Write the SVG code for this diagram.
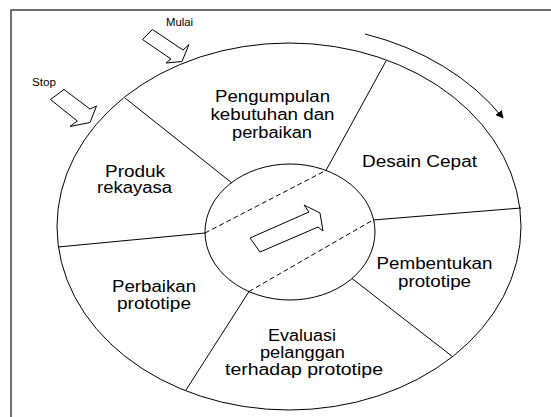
<svg xmlns="http://www.w3.org/2000/svg" width="551" height="417" viewBox="0 0 551 417">
<defs>
<style>
.ln{fill:none;stroke:#000;stroke-width:1}
.dash{fill:none;stroke:#000;stroke-width:1;stroke-dasharray:5,3}
.blk{fill:#fff;stroke:#000;stroke-width:1;stroke-linejoin:miter}
.t{font-family:"Liberation Sans",Arial,sans-serif;font-size:16px;fill:#000;text-anchor:middle}
.s{font-family:"Liberation Sans",Arial,sans-serif;font-size:10px;fill:#000}
</style>
<marker id="ah" viewBox="0 0 10 10" refX="9" refY="5" markerWidth="8" markerHeight="8" markerUnits="userSpaceOnUse" orient="auto">
<path d="M0,0 L10,5 L0,10 z" fill="#000"/>
</marker>
</defs>
<rect width="551" height="417" fill="#fff"/>
<rect x="11" y="10" width="580" height="440" fill="none" stroke="#333" stroke-width="1.4"/>

<g id="wheel">
<ellipse cx="289" cy="226.5" rx="232" ry="183.5" class="ln"/>
<ellipse cx="290" cy="232" rx="85" ry="68" class="ln"/>
</g>

<g id="connectors">
<line x1="125" y1="98" x2="232" y2="183" class="ln"/>
<line x1="386" y1="61" x2="326" y2="170.4" class="ln"/>
<line x1="521" y1="208" x2="373" y2="220" class="ln"/>
<line x1="453" y1="357" x2="352" y2="278.5" class="ln"/>
<line x1="186" y1="390" x2="249" y2="291.5" class="ln"/>
<line x1="58" y1="247" x2="205" y2="233" class="ln"/>
<line x1="205" y1="233" x2="326" y2="170.4" class="dash"/>
<line x1="249" y1="291.5" x2="373" y2="220" class="dash"/>
<path d="M365,34 A254,202 0 0 1 503,118" class="ln" marker-end="url(#ah)"/>
<polygon class="blk" points="152.5,29.5 183,50 189,44.5 182,61.5 166,63 171,59 142.5,39.5"/>
<polygon class="blk" points="64,89.5 90,109 96.5,106 90,122.5 70,126.5 77.3,121 50.5,99.5"/>
<polygon class="blk" points="250,238 309,212 304,205 320,213 323,231 318,227 260,252"/>
</g>

<g id="mulai"><text class="s" x="166" y="26" textLength="27" lengthAdjust="spacingAndGlyphs">Mulai</text></g>
<g id="stop"><text class="s" x="32" y="86" textLength="24" lengthAdjust="spacingAndGlyphs">Stop</text></g>

<g id="pengumpulan">
<text class="t" x="272.5" y="102" textLength="115" lengthAdjust="spacingAndGlyphs">Pengumpulan</text>
<text class="t" x="272.5" y="120" textLength="124" lengthAdjust="spacingAndGlyphs">kebutuhan dan</text>
<text class="t" x="272" y="138" textLength="80" lengthAdjust="spacingAndGlyphs">perbaikan</text>
</g>
<g id="desain">
<text class="t" x="419.5" y="167" textLength="115" lengthAdjust="spacingAndGlyphs">Desain Cepat</text>
</g>
<g id="pembentukan">
<text class="t" x="434.5" y="269" textLength="116" lengthAdjust="spacingAndGlyphs">Pembentukan</text>
<text class="t" x="434.5" y="287" textLength="73" lengthAdjust="spacingAndGlyphs">prototipe</text>
</g>
<g id="evaluasi">
<text class="t" x="302" y="341" textLength="68" lengthAdjust="spacingAndGlyphs">Evaluasi</text>
<text class="t" x="302.5" y="358" textLength="85" lengthAdjust="spacingAndGlyphs">pelanggan</text>
<text class="t" x="304" y="375" textLength="158" lengthAdjust="spacingAndGlyphs">terhadap prototipe</text>
</g>
<g id="perbaikan">
<text class="t" x="154" y="291.5" textLength="84" lengthAdjust="spacingAndGlyphs">Perbaikan</text>
<text class="t" x="154" y="308.5" textLength="74" lengthAdjust="spacingAndGlyphs">prototipe</text>
</g>
<g id="produk">
<text class="t" x="135" y="176.5" textLength="60" lengthAdjust="spacingAndGlyphs">Produk</text>
<text class="t" x="134.5" y="192.5" textLength="75" lengthAdjust="spacingAndGlyphs">rekayasa</text>
</g>
</svg>
